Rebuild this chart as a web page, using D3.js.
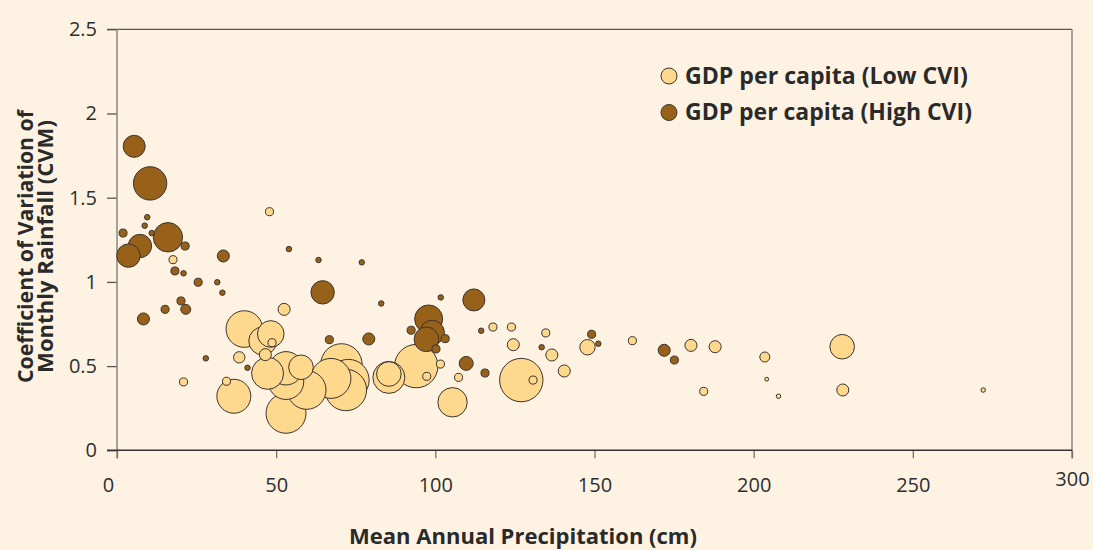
<!DOCTYPE html>
<html><head><meta charset="utf-8">
<script src="https://cdn.jsdelivr.net/npm/d3@7"></script>
<style>html,body{margin:0;padding:0;background:#FEF3E3;} svg{display:block;}</style>
</head><body><svg id="c" width="1093" height="550"></svg>
<script>
// ---- data ----
const xTicks = [0, 50, 100, 150, 200, 250, 300];
const yTicks = [0, 0.5, 1, 1.5, 2, 2.5];
const seriesNames = ["GDP per capita (Low CVI)", "GDP per capita (High CVI)"];

// Low CVI series: mean annual precipitation (cm), CVM, GDP per capita (thousand $)
const lowPrecip = [17.6, 47.9, 52.5, 40.0, 48.3, 45.8, 48.7, 38.4, 46.6, 47.3, 53.1, 57.8, 53.1, 59.6, 20.9, 34.4, 36.7, 53.1, 70.5, 72.7, 67.2, 71.9, 85.4, 85.4, 94.0, 118.1, 123.9, 124.5, 134.7, 136.6, 147.8, 161.9, 101.6, 107.3, 140.5, 127.0, 130.7, 97.3, 105.4, 180.3, 187.9, 203.5, 204.1, 207.8, 184.3, 227.8, 228.0, 272.1];
const lowCvm    = [1.132, 1.417, 0.837, 0.72, 0.691, 0.649, 0.639, 0.552, 0.568, 0.457, 0.487, 0.493, 0.407, 0.358, 0.406, 0.41, 0.321, 0.22, 0.51, 0.417, 0.427, 0.358, 0.433, 0.453, 0.50, 0.732, 0.732, 0.627, 0.697, 0.566, 0.612, 0.651, 0.512, 0.433, 0.471, 0.417, 0.417, 0.439, 0.285, 0.623, 0.615, 0.554, 0.422, 0.321, 0.35, 0.615, 0.358, 0.358];
const lowGdp    = [2.6, 2.6, 5.8, 53.6, 28.3, 31.4, 2.6, 5.2, 5.8, 41, 44.6, 24.2, 50.1, 59.6, 2.6, 2.6, 46.2, 64, 68.6, 68.6, 64, 68.6, 41, 24.2, 75.3, 2.6, 2.6, 5.8, 2.6, 5.8, 9.5, 2.6, 2.6, 2.6, 5.8, 75.3, 2.6, 2.6, 34.6, 5.8, 5.8, 4, 0.6, 0.8, 2.6, 24.2, 5.8, 0.8];

// High CVI series
const highPrecip = [5.4, 10.4, 9.5, 8.7, 1.9, 10.9, 7.2, 3.6, 16.0, 21.4, 18.2, 20.9, 25.5, 31.5, 33.1, 33.4, 54.0, 63.3, 76.9, 20.1, 21.6, 15.1, 8.3, 64.6, 83.0, 66.7, 79.1, 27.9, 41.0, 101.7, 112.1, 97.9, 99.0, 97.2, 92.4, 103.1, 100.2, 114.4, 133.4, 149.1, 151.2, 109.7, 115.6, 171.9, 175.1];
const highCvm    = [1.805, 1.585, 1.384, 1.334, 1.29, 1.29, 1.213, 1.156, 1.265, 1.213, 1.065, 1.051, 0.998, 0.998, 0.936, 1.154, 1.195, 1.13, 1.116, 0.887, 0.837, 0.837, 0.78, 0.938, 0.872, 0.657, 0.661, 0.546, 0.49, 0.908, 0.893, 0.78, 0.699, 0.659, 0.713, 0.663, 0.602, 0.71, 0.612, 0.689, 0.633, 0.516, 0.459, 0.594, 0.536];
const highGdp    = [19.4, 44.6, 1.2, 1.2, 2.6, 1.2, 21.9, 21.9, 34.6, 2.6, 2.6, 1.2, 2.6, 1.2, 1.2, 5.8, 1.2, 1.2, 1.2, 2.6, 4, 2.6, 5.8, 21.9, 1.2, 2.6, 5.8, 1.2, 1.2, 1.2, 19.4, 31.4, 24.2, 24.2, 2.6, 2.6, 2.6, 1.2, 1.2, 2.6, 1.2, 7.8, 2.6, 5.8, 2.6];

// ---- styles ----
const BG = "#FEF3E3", LIGHT = "#FED88C", DARK = "#98611A", STROKE = "#3a3330";
const FONT = "'Open Sans', 'DejaVu Sans', sans-serif";

const svg = d3.select("#c");
svg.append("rect").attr("width", 1093).attr("height", 550).attr("fill", BG);

const x = d3.scaleLinear().domain([0, 300]).range([117, 1072]);
const y = d3.scaleLinear().domain([0, 2.5]).range([450.3, 29.3]);
const r = d3.scaleSqrt().domain([0, 80]).range([0, 22.36]);

// frame lines
svg.append("line").attr("x1", 107).attr("x2", x(300)).attr("y1", y(2.5)).attr("y2", y(2.5)).attr("stroke", "#5a5550").attr("stroke-width", 1.3);
svg.append("line").attr("x1", x(300)).attr("x2", x(300)).attr("y1", y(2.5)).attr("y2", y(0) + 8).attr("stroke", "#8c8782").attr("stroke-width", 1.5);

// y axis
const yAxis = svg.append("g").attr("transform", `translate(${x(0)},0)`)
  .call(d3.axisLeft(y).tickValues(yTicks).tickSize(10).tickPadding(10).tickFormat(d => String(d)));
yAxis.select(".domain").remove();
yAxis.selectAll(".tick line").attr("stroke", "#5a5550").attr("stroke-width", 1.3);
yAxis.selectAll(".tick text").attr("fill", "#2e2e2e").style("font-family", FONT).style("font-size", "20px").style("font-weight", 400);
svg.append("line").attr("x1", x(0)).attr("x2", x(0)).attr("y1", y(2.5)).attr("y2", y(0) + 8).attr("stroke", "#8c8782").attr("stroke-width", 1.5);

// x axis
const xAxis = svg.append("g").attr("transform", `translate(0,${y(0)})`)
  .call(d3.axisBottom(x).tickValues(xTicks).tickSize(8).tickPadding(21).tickFormat(d => String(d)));
xAxis.select(".domain").remove();
xAxis.selectAll(".tick line").attr("stroke", "#77726d").attr("stroke-width", 1.3);
xAxis.selectAll(".tick text").attr("fill", "#2e2e2e").style("font-family", FONT).style("font-size", "20px").style("font-weight", 400)
  .attr("dx", d => d === 0 ? -9 : 0).attr("y", d => d === 300 ? 22 : 28);
svg.append("line").attr("x1", 107).attr("x2", x(300)).attr("y1", y(0)).attr("y2", y(0)).attr("stroke", "#333").attr("stroke-width", 1.5);

// bubbles
const pts = [];
lowPrecip.forEach((p, i) => pts.push({ p, c: lowCvm[i], g: lowGdp[i], s: 0 }));
highPrecip.forEach((p, i) => pts.push({ p, c: highCvm[i], g: highGdp[i], s: 1 }));
pts.sort((a, b) => b.g - a.g);
svg.append("g").selectAll("circle").data(pts).join("circle")
  .attr("cx", d => x(d.p)).attr("cy", d => y(d.c)).attr("r", d => r(d.g))
  .attr("fill", d => d.s ? DARK : LIGHT).attr("stroke", STROKE).attr("stroke-width", 1);

// fit helper
function fit(sel, w) {
  const len = sel.node().getComputedTextLength();
  const fs = parseFloat(sel.style("font-size"));
  sel.style("font-size", (fs * w / len).toFixed(2) + "px");
}

// legend
const leg = svg.append("g");
seriesNames.forEach((name, i) => {
  const cy = 76 + i * 36.5;
  leg.append("circle").attr("cx", 669).attr("cy", cy).attr("r", 8)
    .attr("fill", i ? DARK : LIGHT).attr("stroke", STROKE).attr("stroke-width", 1);
  const t = leg.append("text").attr("x", 685).attr("y", cy + 7.5).text(name)
    .attr("fill", "#2a2a2a").style("font-family", FONT).style("font-weight", 700).style("font-size", "19px");
  fit(t, i ? 287 : 283);
});

// axis titles
const xt = svg.append("text").attr("x", 523).attr("y", 544).attr("text-anchor", "middle")
  .text("Mean Annual Precipitation (cm)").attr("fill", "#2a2a2a")
  .style("font-family", FONT).style("font-weight", 700).style("font-size", "18px");
fit(xt, 348);

const yt1 = svg.append("text").attr("transform", "translate(33,246.5) rotate(-90)").attr("text-anchor", "middle")
  .text("Coefficient of Variation of").attr("fill", "#2a2a2a")
  .style("font-family", FONT).style("font-weight", 700).style("font-size", "18px");
fit(yt1, 273);
const yt2 = svg.append("text").attr("transform", "translate(53,246.5) rotate(-90)").attr("text-anchor", "middle")
  .text("Monthly Rainfall (CVM)").attr("fill", "#2a2a2a")
  .style("font-family", FONT).style("font-weight", 700).style("font-size", "18px");
fit(yt2, 253);
</script>
</body></html>
